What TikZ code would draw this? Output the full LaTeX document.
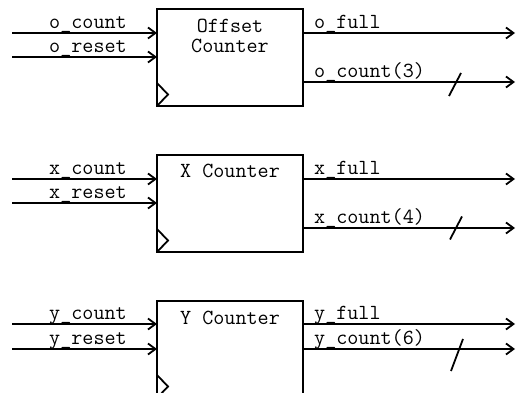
\documentclass[tikz,border=0pt]{standalone}
\usetikzlibrary{arrows.meta}
\begin{document}
\begin{tikzpicture}[x=1pt,y=-1pt,
  blk/.style={draw, line width=1.8pt, outer sep=0pt, inner sep=0pt, minimum width=146pt, minimum height=97pt},
  sig/.style={line width=1.8pt, -{Straight Barb[length=7.5pt,width=11pt]}},
  bus/.style={line width=1.8pt},
  lbl/.style={font=\ttfamily\fontsize{21.5}{20}\selectfont, anchor=base, inner sep=0pt},
  olbl/.style={lbl, anchor=base west}]
\clip (0,0) rectangle (517,393);
% ---------- Offset counter
\node[blk] (b1) at (230,57.5) {};
\node[lbl, align=center] (t1) at (230,53) {Offset\\Counter};
\coordinate (i1a) at (12,33); \coordinate (i1b) at (12,57);
\coordinate (o1a) at (515,33); \coordinate (o1b) at (515,82);
\draw[sig] (i1a) -- (i1a -| b1.west);
\draw[sig] (i1b) -- (i1b -| b1.west);
\draw[sig] (o1a -| b1.east) -- (o1a);
\draw[sig] (o1b -| b1.east) -- (o1b);
\node[lbl] (l1a) at (88,28.5) {o\_count};
\node[lbl] (l1b) at (88,52.5) {o\_reset};
\node[olbl] (l1c) at (314,28.5) {o\_full};
\node[olbl] (l1d) at (314,77.5) {o\_count(3)};
\coordinate (s1) at (455,84.5);
\draw[bus] (s1) ++(-6,11.5) -- ++(12,-23);
\draw[bus] (b1.south west) ++(0,-23) -- ++(11,11.5) -- ++(-11,11.5);
% ---------- X counter
\node[blk] (b2) at (230,203.5) {};
\node[lbl] (t2) at (230,178) {X Counter};
\coordinate (i2a) at (12,179); \coordinate (i2b) at (12,203);
\coordinate (o2a) at (515,179); \coordinate (o2b) at (515,228);
\draw[sig] (i2a) -- (i2a -| b2.west);
\draw[sig] (i2b) -- (i2b -| b2.west);
\draw[sig] (o2a -| b2.east) -- (o2a);
\draw[sig] (o2b -| b2.east) -- (o2b);
\node[lbl] (l2a) at (88,174.5) {x\_count};
\node[lbl] (l2b) at (88,198.5) {x\_reset};
\node[olbl] (l2c) at (314,174.5) {x\_full};
\node[olbl] (l2d) at (314,223.5) {x\_count(4)};
\coordinate (s2) at (456,228);
\draw[bus] (s2) ++(-6,11.5) -- ++(12,-23);
\draw[bus] (b2.south west) ++(0,-23) -- ++(11,11.5) -- ++(-11,11.5);
% ---------- Y counter
\node[blk] (b3) at (230,349.5) {};
\node[lbl] (t3) at (230,324.5) {Y Counter};
\coordinate (i3a) at (12,324); \coordinate (i3b) at (12,349);
\coordinate (o3a) at (515,324); \coordinate (o3b) at (515,349);
\draw[sig] (i3a) -- (i3a -| b3.west);
\draw[sig] (i3b) -- (i3b -| b3.west);
\draw[sig] (o3a -| b3.east) -- (o3a);
\draw[sig] (o3b -| b3.east) -- (o3b);
\node[lbl] (l3a) at (88,319.5) {y\_count};
\node[lbl] (l3b) at (88,344.5) {y\_reset};
\node[olbl] (l3c) at (314,319.5) {y\_full};
\node[olbl] (l3d) at (314,344.5) {y\_count(6)};
\coordinate (s3) at (457,355);
\draw[bus] (s3) ++(-6,16) -- ++(12,-32);
\draw[bus] (b3.south west) ++(0,-23) -- ++(11,11.5) -- ++(-11,11.5);
\end{tikzpicture}
\end{document}
